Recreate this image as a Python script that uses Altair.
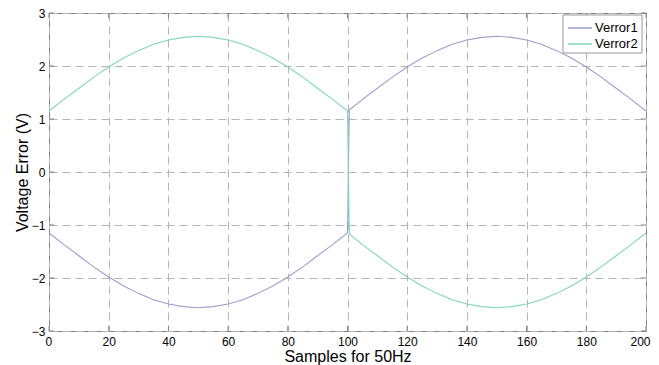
import altair as alt
import pandas as pd

# ---- data ----
series = ["Verror1", "Verror2"]
colors = ["#9d9dd0", "#7fd6b9"]

x_first = [0, 5, 10, 15, 20, 25, 30, 35, 40, 45, 50, 55, 60, 65, 70, 75, 80, 85, 90, 95, 100]
x_second = [100.6, 105, 110, 115, 120, 125, 130, 135, 140, 145, 150, 155, 160, 165, 170, 175, 180, 185, 190, 195, 200]

verror1_first = [-1.15, -1.37, -1.58, -1.79, -1.98, -2.15, -2.29, -2.41, -2.49, -2.54, -2.56,
                 -2.54, -2.49, -2.41, -2.29, -2.15, -1.98, -1.79, -1.58, -1.37, -1.15]
verror1_second = [1.17, 1.37, 1.58, 1.79, 1.98, 2.15, 2.29, 2.41, 2.49, 2.54, 2.56,
                  2.54, 2.49, 2.41, 2.29, 2.15, 1.98, 1.79, 1.58, 1.37, 1.15]
verror2_first = [1.15, 1.37, 1.58, 1.79, 1.98, 2.15, 2.29, 2.41, 2.49, 2.54, 2.56,
                 2.54, 2.49, 2.41, 2.29, 2.15, 1.98, 1.79, 1.58, 1.37, 1.15]
verror2_second = [-1.17, -1.37, -1.58, -1.79, -1.98, -2.15, -2.29, -2.41, -2.49, -2.54, -2.56,
                  -2.54, -2.49, -2.41, -2.29, -2.15, -1.98, -1.79, -1.58, -1.37, -1.15]

x_ticks = [0, 20, 40, 60, 80, 100, 120, 140, 160, 180, 200]
y_ticks = [-3, -2, -1, 0, 1, 2, 3]

rows = []
for name, first, second in [(series[0], verror1_first, verror1_second),
                            (series[1], verror2_first, verror2_second)]:
    for i, (xv, vv) in enumerate(zip(x_first + x_second, first + second)):
        rows.append({"x": xv, "v": vv, "series": name, "order": i})
df = pd.DataFrame(rows)
xt_df = pd.DataFrame({"x": x_ticks})
yt_df = pd.DataFrame({"v": y_ticks})
one = pd.DataFrame({"a": [0]})

W, H = 597, 318
FONT = "Liberation Sans"
BOX = "#808080"
xscale = alt.Scale(domain=[0, 200], nice=False, zero=False)
yscale = alt.Scale(domain=[-3, 3], nice=False, zero=False)

x_axis = alt.Axis(
    values=x_ticks, title="Samples for 50Hz", grid=True, gridDash=[8, 5],
    gridColor="#b5b5b5", gridWidth=1, ticks=False, domain=False,
    labelPadding=5, labelFontSize=12, labelColor="#000", labelFont=FONT,
    labelFlush=True, labelFlushOffset=4,
    titleFont=FONT, titleFontSize=16, titleFontWeight="normal",
    titleColor="#000", titleBaseline="alphabetic", titleY=30)
y_axis = alt.Axis(
    values=y_ticks, title="Voltage Error (V)", grid=True, gridDash=[8, 5],
    gridColor="#b5b5b5", gridWidth=1, ticks=False, domain=False,
    labelPadding=4, labelFontSize=12, labelColor="#000", labelFont=FONT,
    labelFlush=False, titleFont=FONT, titleFontSize=16, titleFontWeight="normal",
    titleColor="#000", titleBaseline="alphabetic", titleX=-22)

lines = alt.Chart(df).mark_line(strokeWidth=1.1).encode(
    x=alt.X("x:Q", scale=xscale, axis=x_axis),
    y=alt.Y("v:Q", scale=yscale, axis=y_axis),
    color=alt.Color("series:N", scale=alt.Scale(domain=series, range=colors), legend=None),
    order="order:Q",
)

tick_color = BOX
bottom_ticks = alt.Chart(xt_df).mark_rule(color=tick_color).encode(
    x=alt.X("x:Q", scale=xscale, axis=x_axis), y=alt.value(H), y2=alt.value(H - 5))
top_ticks = alt.Chart(xt_df).mark_rule(color=tick_color).encode(
    x=alt.X("x:Q", scale=xscale, axis=x_axis), y=alt.value(0), y2=alt.value(5))
left_ticks = alt.Chart(yt_df).mark_rule(color=tick_color).encode(
    y=alt.Y("v:Q", scale=yscale, axis=y_axis), x=alt.value(0), x2=alt.value(5))
right_ticks = alt.Chart(yt_df).mark_rule(color=tick_color).encode(
    y=alt.Y("v:Q", scale=yscale, axis=y_axis), x=alt.value(W), x2=alt.value(W - 5))

# ---- hand-made MATLAB-style legend ----
LX0, LX1, LY0, LY1 = 514, 593, 2, 40
legend_box = alt.Chart(one).mark_rect(fill="white", stroke="#999999", strokeWidth=1).encode(
    x=alt.value(LX0), x2=alt.value(LX1), y=alt.value(LY0), y2=alt.value(LY1))
legend_layers = [legend_box]
for k, (name, col) in enumerate(zip(series, colors)):
    yy = 15 + 16 * k
    legend_layers.append(alt.Chart(one).mark_rule(color=col, strokeWidth=1.5).encode(
        x=alt.value(LX0 + 5), x2=alt.value(LX0 + 29), y=alt.value(yy)))
    legend_layers.append(alt.Chart(one).mark_text(
        align="left", baseline="middle", font=FONT, fontSize=13, color="#000").encode(
        x=alt.value(LX0 + 32), y=alt.value(yy), text=alt.value(name)))

chart = alt.layer(lines, bottom_ticks, top_ticks, left_ticks, right_ticks, *legend_layers).properties(
    width=W, height=H,
    autosize=alt.AutoSizeParams(type="none"),
    padding={"left": 41, "top": 5, "right": 5, "bottom": 34},
    background="white",
).configure_view(stroke=BOX, strokeWidth=1)

chart.save("out.html", embed_options={"renderer": "svg", "actions": False})
